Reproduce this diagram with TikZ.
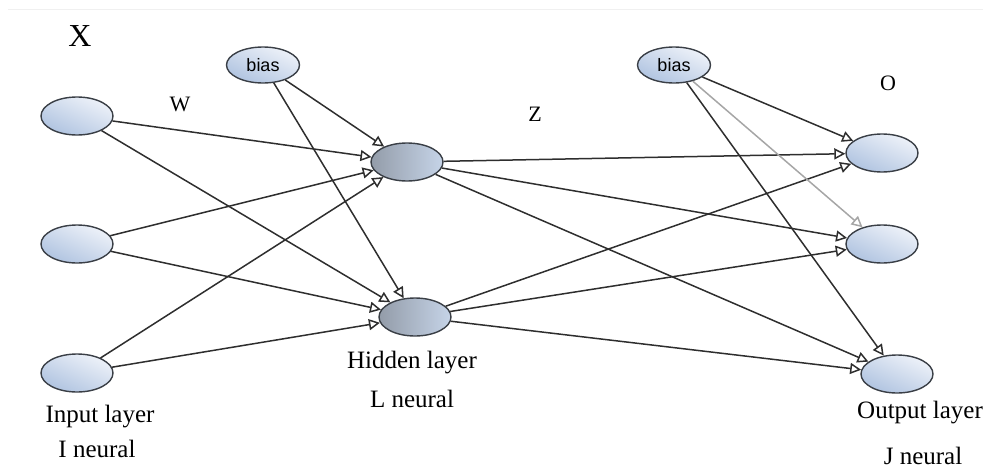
\documentclass[tikz,border=0pt]{standalone}
\usepackage{fontspec}
\setmainfont{Liberation Serif}
\newfontfamily\biasfont{Liberation Sans}
\usetikzlibrary{shapes.geometric,arrows.meta}
\definecolor{nodetop}{HTML}{EEF2F9}
\definecolor{nodebot}{HTML}{AFC3E0}
\definecolor{hidleft}{HTML}{939CA9}
\definecolor{hidright}{HTML}{C6D4E8}
\definecolor{rim}{HTML}{3A3F46}

\begin{document}
\begin{tikzpicture}[x=1pt,y=-1pt,
  neuron/.style={ellipse,draw=rim,line width=1.4pt,minimum width=72pt,minimum height=38pt,
    inner sep=0pt,top color=nodetop,bottom color=nodebot,shading angle=-25},
  hidneuron/.style={neuron,left color=hidleft,right color=hidright},
  biasnode/.style={neuron,minimum width=73pt,minimum height=36pt,font=\biasfont\fontsize{18}{18}\selectfont},
  lbl/.style={inner sep=0pt,font=\fontsize{25}{25}\selectfont},
  conn/.style={draw=black!82,line width=1.5pt,-{Triangle[open,length=11pt,width=11pt]}}]
\useasboundingbox (0,0) rectangle (983,474);
\draw[gray!12,line width=0.8pt] (8,9) -- (983,9);
% input layer
\node[neuron] (in1) at (77,116) {};
\node[neuron] (in2) at (77,244) {};
\node[neuron] (in3) at (77,373) {};
% hidden layer
\node[hidneuron] (hid1) at (407,162) {};
\node[hidneuron] (hid2) at (415,317) {};
% output layer
\node[neuron] (out1) at (882,153) {};
\node[neuron] (out2) at (882,244) {};
\node[neuron] (out3) at (897,374) {};
% bias
\node[biasnode] (biasA) at (263,65) {bias};
\node[biasnode] (biasB) at (674,65) {bias};
% labels
\node[lbl,font=\fontsize{32}{32}\selectfont] (X) at (80,36) {X};
\node[lbl,font=\fontsize{22}{22}\selectfont] (W) at (180,104) {W};
\node[lbl,font=\fontsize{22}{22}\selectfont] (Z) at (535,114) {Z};
\node[lbl,font=\fontsize{22}{22}\selectfont] (O) at (888,83) {O};
\node[lbl] (inL) at (100,417) {Input layer};
\node[lbl] (inN) at (97,449) {I neural};
\node[lbl] (hidL) at (412,363) {Hidden layer};
\node[lbl] (hidN) at (412,399) {L neural};
\node[lbl,anchor=west] (outL) at (857,413) {Output layer};
\node[lbl] (outN) at (923,456) {J neural};
% connections
\foreach \i in {in1,in2,in3}
  \foreach \h in {hid1,hid2}
    \draw[conn] (\i) -- (\h);
\foreach \h in {hid1,hid2}
  \foreach \o in {out1,out2,out3}
    \draw[conn] (\h) -- (\o);
\draw[conn] (biasA) -- (hid1);
\draw[conn] (biasA) -- (hid2);
\draw[conn] (biasB) -- (out1);
\draw[conn,draw=gray!70] (biasB) -- (out2);
\draw[conn] (biasB) -- (out3);
\end{tikzpicture}
\end{document}
